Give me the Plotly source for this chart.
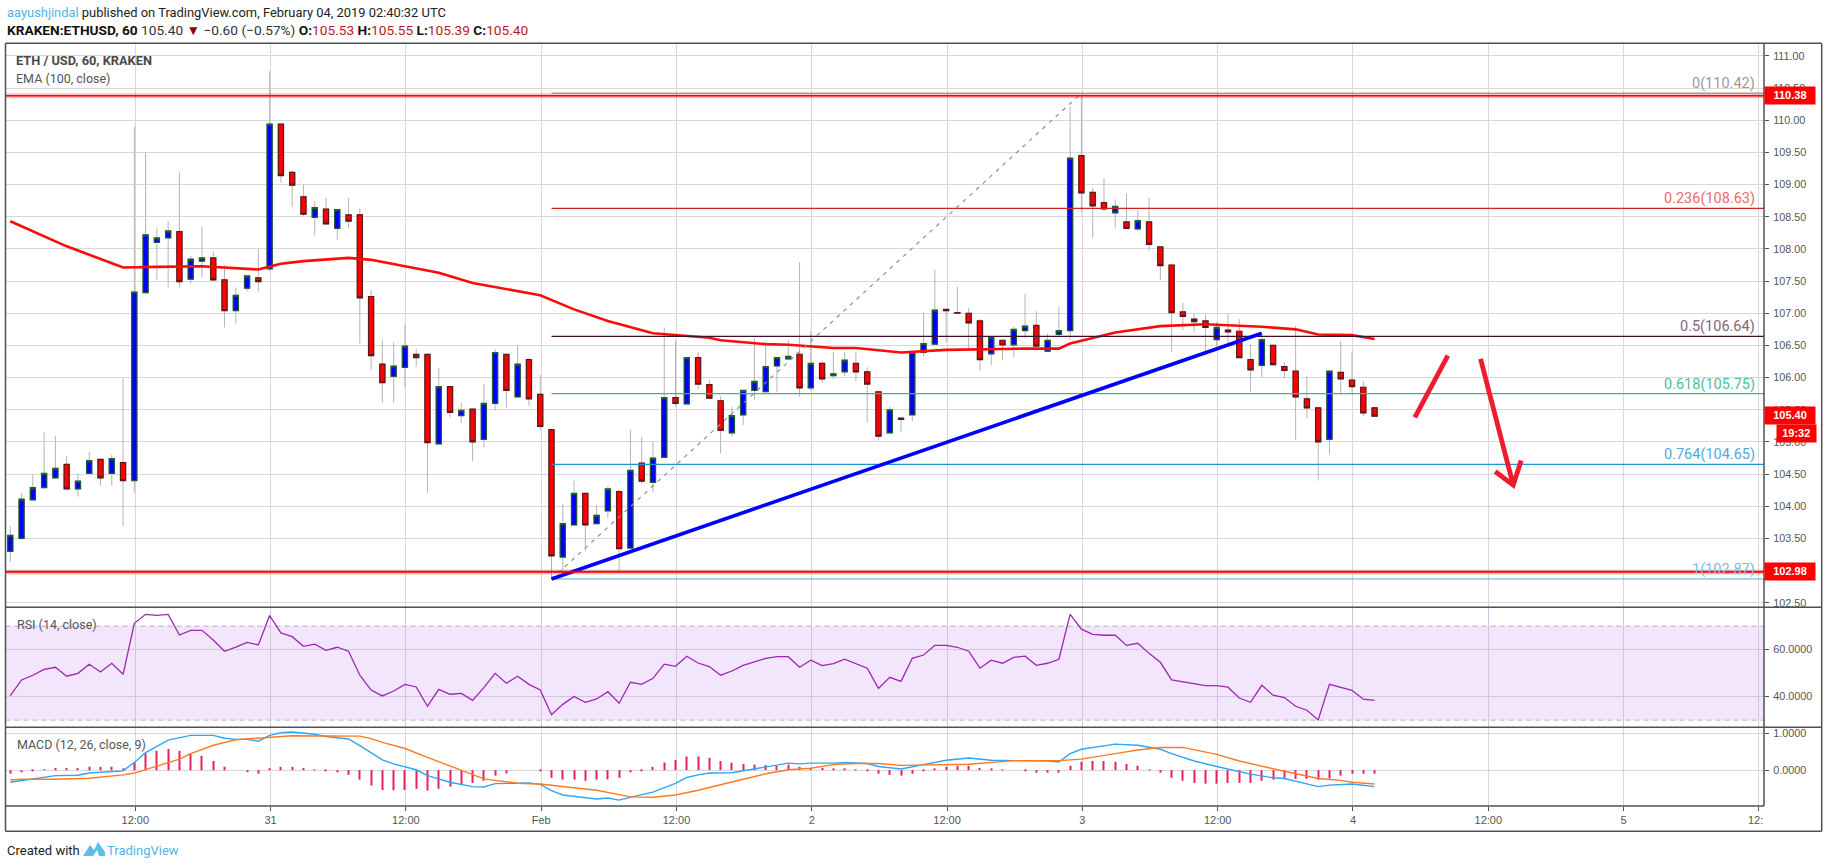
import plotly.graph_objects as go
from plotly.subplots import make_subplots

W, H = 1828, 868

# bars are hourly, x = hours since Jan 30 00:00
hours = list(range(1, 123))

opens = [103.30,103.50,104.10,104.29,104.44,104.65,104.27,104.51,104.73,104.51,
         104.68,104.40,107.32,108.10,108.17,108.27,107.53,107.81,107.86,107.52,
         107.04,107.39,107.55,107.69,109.94,109.19,108.81,108.49,108.62,108.32,
         108.53,108.53,107.26,106.21,106.02,106.16,106.36,106.36,104.97,105.86,
         105.41,105.51,105.04,105.60,106.36,105.70,106.28,105.74,105.19,103.21,
         103.71,104.20,103.73,103.93,104.23,103.35,104.67,104.37,104.76,105.69,
         105.59,106.31,105.89,105.64,105.14,105.42,105.80,105.78,106.18,106.29,
         106.36,105.84,106.22,106.03,106.09,106.22,106.09,105.78,105.14,105.37,
         105.42,106.39,106.52,107.06,107.01,107.00,106.88,106.37,106.58,106.51,
         106.73,106.81,106.41,106.67,106.73,109.45,108.88,108.72,108.56,108.42,
         108.31,108.42,108.03,107.75,107.02,106.91,106.88,106.59,106.74,106.72,
         106.28,106.19,106.50,106.17,106.10,105.67,105.53,105.04,106.08,105.96,
         105.85,105.53]
highs = [103.69,104.21,104.50,105.15,105.09,104.78,104.51,104.84,104.73,104.80,
         105.99,109.90,109.50,108.32,108.43,109.19,107.89,108.35,107.96,107.75,
         107.40,107.58,108.00,110.76,109.94,109.22,109.00,108.74,108.79,108.61,
         108.79,108.63,107.36,106.59,106.55,106.82,106.45,106.36,106.15,105.86,
         105.61,105.51,105.90,106.44,106.36,106.49,106.31,106.04,105.19,104.04,
         104.40,104.20,104.02,104.32,104.27,105.19,105.08,105.00,106.78,106.58,
         106.31,106.40,105.97,105.71,105.55,105.80,106.61,106.54,106.31,106.59,
         107.79,106.72,106.25,106.40,106.40,106.40,106.16,105.78,105.55,105.37,
         106.39,107.01,107.68,107.06,107.41,107.08,106.91,106.63,106.58,106.79,
         107.30,107.03,106.69,107.10,110.21,110.37,108.95,109.10,108.77,108.86,
         108.60,108.80,108.03,107.75,107.16,107.00,106.98,106.86,107.00,106.91,
         106.52,106.67,106.50,106.24,106.80,106.02,105.53,106.10,106.57,106.40,
         105.95,105.55]
lows = [103.13,103.48,104.10,104.29,104.43,104.27,104.15,104.51,104.32,104.32,
        103.69,104.21,107.31,107.51,107.40,107.40,107.46,107.56,107.50,106.78,
        106.84,107.34,107.34,107.65,109.03,108.65,108.51,108.21,108.39,108.14,
        108.32,106.53,106.12,105.61,105.61,105.85,106.17,104.21,104.97,105.38,
        105.29,104.70,104.92,105.49,105.53,105.70,105.56,105.19,102.86,102.94,
        103.71,103.30,103.73,103.82,102.99,103.35,104.35,104.22,104.76,105.55,
        105.59,105.82,105.68,104.82,105.09,105.26,105.65,105.78,105.78,106.29,
        105.70,105.79,105.92,105.98,106.02,105.94,105.30,105.02,105.14,105.15,
        105.32,106.33,106.52,106.55,107.00,106.42,106.10,106.19,106.27,106.32,
        106.61,106.49,106.41,106.65,106.59,108.57,108.17,108.59,108.33,108.32,
        108.28,107.97,107.51,106.39,106.74,106.71,106.40,106.48,106.52,106.31,
        105.78,106.01,106.18,105.99,105.03,105.36,104.40,104.81,105.74,105.75,
        105.40,105.39]
closes = [103.55,104.11,104.29,104.51,104.59,104.27,104.39,104.71,104.44,104.74,
          104.40,107.33,108.22,108.17,108.28,107.49,107.84,107.86,107.52,107.04,
          107.28,107.58,107.49,109.94,109.14,108.99,108.54,108.64,108.39,108.61,
          108.43,107.24,106.34,105.92,106.18,106.49,106.31,104.99,105.86,105.46,
          105.49,105.00,105.60,106.39,105.80,106.21,105.67,105.24,103.23,103.73,
          104.20,103.71,103.86,104.27,103.34,104.56,104.39,104.75,105.69,105.60,
          106.31,105.90,105.68,105.18,105.41,105.80,105.94,106.17,106.31,106.33,
          105.84,106.22,105.98,106.06,106.27,106.09,105.90,105.09,105.50,105.35,
          106.39,106.53,107.05,107.04,107.00,106.85,106.28,106.63,106.51,106.75,
          106.80,106.49,106.58,106.73,109.41,108.87,108.67,108.62,108.66,108.32,
          108.44,108.07,107.74,107.01,106.95,106.87,106.78,106.78,106.71,106.31,
          106.12,106.59,106.20,106.11,105.70,105.53,105.00,106.10,105.98,105.86,
          105.45,105.40]

ema_x = [1,6,8,11,14,18,23,25,27,31,33,37,39,42,43,48,51,54,58,63,64,68,70,74,76,79,80,
         84,87,91,94,95,99,103,107,112,115,117,120,122]
ema_y = [108.43,108.04,107.91,107.71,107.72,107.73,107.68,107.77,107.81,107.86,107.83,
         107.70,107.63,107.47,107.44,107.28,107.06,106.88,106.69,106.62,106.58,106.52,
         106.51,106.46,106.46,106.41,106.39,106.43,106.44,106.45,106.45,106.53,106.70,
         106.80,106.83,106.79,106.75,106.67,106.66,106.60]

rsi = [40.4,47.1,49.1,51.6,52.5,48.7,49.9,53.8,50.5,54.2,49.5,71.2,75.0,74.6,75.0,66.2,
       68.2,68.2,64.1,59.3,61.1,63.1,62.0,74.5,67.1,65.5,61.4,62.3,59.7,61.0,59.3,49.1,
       42.8,40.3,42.4,45.2,44.1,35.9,43.1,41.0,41.4,38.4,43.8,49.9,45.7,48.7,45.2,42.8,
       32.3,36.7,40.1,37.6,39.0,42.1,37.2,46.1,45.2,47.8,53.8,52.9,57.2,54.3,
       52.8,49.1,50.9,53.3,54.8,56.3,57.0,57.0,52.5,55.5,53.2,54.0,55.9,53.9,52.1,43.5,
       48.2,46.5,56.3,57.7,61.8,61.8,61.0,59.3,52.1,55.5,54.2,56.7,57.2,53.3,54.2,55.9,
       75.0,68.7,66.5,66.1,66.1,61.8,62.7,58.4,54.6,47.1,46.4,45.5,44.7,44.7,44.0,39.4,
       37.6,44.8,40.6,39.6,35.9,34.2,30.1,45.2,44.0,42.7,38.9,38.4]

macd_x = [1,4,5,7,8,11,12,13,15,17,18,19,20,21,22,23,24,25,26,27,28,29,31,32,34,35,37,38,
          40,42,43,44,46,47,48,49,50,52,53,54,55,57,58,60,61,62,63,65,67,70,71,72,74,75,
          77,78,80,82,84,86,88,90,93,94,95,96,99,101,103,104,106,108,110,111,113,114,117,
          118,120,122]
macd_y = [-0.33,-0.20,-0.15,-0.14,-0.08,-0.02,0.21,0.48,0.82,0.95,0.96,0.95,0.87,0.84,0.84,
          0.79,0.95,1.02,1.04,1.01,0.98,0.92,0.85,0.67,0.28,0.17,0.01,-0.15,-0.33,-0.45,
          -0.46,-0.37,-0.36,-0.35,-0.39,-0.56,-0.68,-0.75,-0.79,-0.76,-0.82,-0.67,-0.60,
          -0.36,-0.20,-0.13,-0.08,-0.07,0.03,0.19,0.17,0.19,0.19,0.21,0.18,0.10,0.03,0.15,
          0.27,0.33,0.27,0.26,0.25,0.22,0.45,0.57,0.71,0.68,0.57,0.45,0.25,0.10,-0.04,
          -0.11,-0.21,-0.23,-0.45,-0.41,-0.38,-0.45]
signal_x = [1,2,5,8,11,12,14,16,17,19,21,23,25,26,32,33,34,36,38,40,41,43,44,46,48,50,51,
            53,55,56,58,60,62,65,66,68,70,72,74,76,78,80,84,86,90,94,96,98,99,101,103,105,
            108,110,112,114,117,119,120,122]
signal_y = [-0.27,-0.25,-0.25,-0.22,-0.13,-0.08,0.11,0.30,0.45,0.68,0.83,0.88,0.92,0.94,
            0.93,0.86,0.76,0.59,0.35,0.11,-0.02,-0.24,-0.28,-0.36,-0.38,-0.45,-0.49,-0.55,
            -0.67,-0.73,-0.74,-0.68,-0.55,-0.31,-0.25,-0.10,0.01,0.05,0.15,0.18,0.18,0.13,
            0.14,0.16,0.26,0.26,0.30,0.41,0.45,0.55,0.62,0.62,0.43,0.25,0.10,-0.03,-0.23,
            -0.28,-0.33,-0.38]
macd_hist = [-0.10,-0.06,-0.03,0.01,0.06,0.06,0.06,0.09,0.09,0.09,0.05,0.21,0.46,0.53,0.58,
             0.53,0.46,0.39,0.25,0.09,0.0,-0.06,-0.10,0.04,0.09,0.09,0.06,0.01,-0.03,-0.06,
             -0.13,-0.26,-0.42,-0.54,-0.55,-0.54,-0.51,-0.56,-0.51,-0.45,-0.38,-0.35,-0.29,
             -0.15,-0.09,0.0,0.0,-0.03,-0.21,-0.26,-0.26,-0.29,-0.26,-0.25,-0.21,-0.06,-0.02,
             0.09,0.21,0.28,0.37,0.37,0.34,0.25,0.20,0.17,0.15,0.14,0.12,0.15,0.09,0.06,0.06,
             0.04,0.04,0.01,-0.03,-0.10,-0.13,-0.15,-0.10,-0.03,0.04,0.09,0.12,0.12,0.06,0.04,
             0.01,0.0,-0.03,-0.07,-0.07,-0.07,0.12,0.23,0.25,0.25,0.23,0.17,0.12,0.01,-0.07,
             -0.21,-0.29,-0.35,-0.37,-0.37,-0.35,-0.35,-0.35,-0.29,-0.26,-0.23,-0.24,-0.24,
             -0.26,-0.23,-0.15,-0.10,-0.10,-0.10]

fib_levels = [110.42, 108.63, 106.64, 105.75, 104.65, 102.87]
fib_ratios = ["0", "0.236", "0.5", "0.618", "0.764", "1"]
fib_colors = ["#9e9e9e", "#c62828", "#3c0f2c", "#35b88a", "#1f93d1", "#4fb0e0"]
fib_text_colors = ["#9a9a9a", "#ef6a6a", "#86657c", "#4cc09a", "#52a8dc", "#7cbce6"]
fib_start = 49
fib_end = 96

trend_x = [49, 112]
trend_y = [102.87, 106.69]
arrow_up_x = [125.57, 128.5]
arrow_up_y = [105.38, 106.34]
arrow_down_x = [131.4, 134.3, 132.7, 134.3, 135.0]
arrow_down_y = [106.29, 104.33, 104.54, 104.33, 104.71]
res_lines = [110.38, 102.98]

x_range = [0.574, 156.54]
tick_hours = [12, 24, 36, 48, 60, 72, 84, 96, 108, 120, 132, 144, 156]
tick_text = ["12:00", "31", "12:00", "Feb", "12:00", "2", "12:00", "3", "12:00", "4", "12:00", "5", ""]
price_ticks = [102.5, 103, 103.5, 104, 104.5, 105, 105.5, 106, 106.5, 107, 107.5, 108, 108.5,
               109, 109.5, 110, 110.5, 111]


def px(x):
    return x / W


def py(y):
    return 1 - y / H


GRID = "#d8d8d8"
RSI_GRID = "#d2c6dc"
FRAME = "#505050"
TICK = "#555555"
UI_FONT = "Liberation Sans"
TEXT_FONT = "Roboto"

fig = make_subplots(rows=3, cols=1, shared_xaxes=True, vertical_spacing=0)

# price pane
fig.add_trace(go.Scatter(x=ema_x, y=ema_y, mode="lines", line=dict(color="#ff0a0a", width=2.6)), row=1, col=1)
# wicks first in grey, then bodies without wicks on top
fig.add_trace(go.Candlestick(x=hours, open=opens, high=highs, low=lows, close=closes,
                             increasing=dict(line=dict(color="#b4b4b4", width=1), fillcolor="#b4b4b4"),
                             decreasing=dict(line=dict(color="#b4b4b4", width=1), fillcolor="#b4b4b4"),
                             whiskerwidth=0), row=1, col=1)
body_hi = [max(o, c) for o, c in zip(opens, closes)]
body_lo = [min(o, c) for o, c in zip(opens, closes)]
fig.add_trace(go.Candlestick(x=hours, open=opens, high=body_hi, low=body_lo, close=closes,
                             increasing=dict(line=dict(color="#1f5c2e", width=1.2), fillcolor="#0000ff"),
                             decreasing=dict(line=dict(color="#5e1818", width=1.2), fillcolor="#ff0000"),
                             whiskerwidth=0), row=1, col=1)

for level, color in zip(fib_levels, fib_colors):
    fig.add_trace(go.Scatter(x=[fib_start, x_range[1]], y=[level, level], mode="lines",
                             line=dict(color=color, width=1.2)), row=1, col=1)
fig.add_trace(go.Scatter(x=[fib_start, fib_end], y=[fib_levels[5], fib_levels[0]], mode="lines",
                         line=dict(color="#8f8f8f", width=1.2, dash="4px,5px")), row=1, col=1)
fig.add_trace(go.Scatter(x=trend_x, y=trend_y, mode="lines", line=dict(color="#0000ff", width=3.6)), row=1, col=1)
arrow_line = dict(color="#ee1c2e", width=4.8)
fig.add_trace(go.Scatter(x=arrow_up_x, y=arrow_up_y, mode="lines", line=arrow_line), row=1, col=1)
fig.add_trace(go.Scatter(x=arrow_down_x, y=arrow_down_y, mode="lines", line=arrow_line), row=1, col=1)

for level in res_lines:
    fig.add_trace(go.Scatter(x=x_range, y=[level, level], mode="lines",
                             line=dict(color="rgba(255,0,0,0.25)", width=5)), row=1, col=1)
    fig.add_trace(go.Scatter(x=x_range, y=[level, level], mode="lines",
                             line=dict(color="#ff0000", width=1.6)), row=1, col=1)

# RSI pane, the band has to come after the trace or plotly drops it on an empty subplot
fig.add_trace(go.Scatter(x=hours, y=rsi, mode="lines", line=dict(color="#9c27b0", width=1.3)), row=2, col=1)
fig.add_hrect(y0=30, y1=70, row=2, col=1, fillcolor="rgb(243,229,252)", line_width=0, layer="below")
for lvl in [30, 70]:
    fig.add_hline(y=lvl, row=2, col=1, line=dict(color="#b9aec1", width=1, dash="5px,4px"), layer="below")

# MACD pane
fig.add_trace(go.Bar(x=hours, y=macd_hist, width=0.09, marker=dict(color="#e91e63", line=dict(width=0))), row=3, col=1)
fig.add_trace(go.Scatter(x=macd_x, y=macd_y, mode="lines", line=dict(color="#2ea6f5", width=1.4)), row=3, col=1)
fig.add_trace(go.Scatter(x=signal_x, y=signal_y, mode="lines", line=dict(color="#ff7a1f", width=1.4)), row=3, col=1)

fig.update_layout(
    width=W, height=H,
    margin=dict(l=0, r=0, t=0, b=0),
    autosize=False,
    paper_bgcolor="white", plot_bgcolor="white",
    showlegend=False,
    boxgap=0.34,
    boxmode="overlay",
    font=dict(family=UI_FONT, size=11, color=TICK),
    hovermode=False,
)

x_dom = [px(5.5), px(1764)]
fig.update_xaxes(range=x_range, domain=x_dom, showgrid=True, gridcolor=GRID, gridwidth=1,
                 tickmode="array", tickvals=[h + 0.086 for h in tick_hours], ticktext=[""] * len(tick_hours),
                 zeroline=False, showline=False, rangeslider_visible=False, ticks="", tickfont=dict(size=11))
fig.update_xaxes(row=2, col=1, gridcolor=RSI_GRID)
fig.update_xaxes(row=3, col=1, ticktext=tick_text, ticks="outside", ticklen=4, tickcolor=FRAME)

fig.update_yaxes(side="right", showgrid=True, gridcolor=GRID, gridwidth=1, zeroline=False, showline=False,
                 ticks="outside", ticklen=4, tickcolor=FRAME, tickfont=dict(size=10.8, color=TICK),
                 ticklabelstandoff=2)
fig.update_yaxes(row=1, col=1, domain=[py(607.3), py(43)], range=[102.43, 111.2], tickmode="array",
                 tickvals=price_ticks, ticktext=["%.2f" % t for t in price_ticks])
fig.update_yaxes(row=2, col=1, domain=[py(727.3), py(607.3)], range=[26.95, 78.0], tickmode="array",
                 tickvals=[40, 60], ticktext=["40.0000", "60.0000"], gridcolor=RSI_GRID)
fig.update_yaxes(row=3, col=1, domain=[py(806), py(727.3)], range=[-0.98, 1.17], tickmode="array",
                 tickvals=[0, 1], ticktext=["0.0000", "1.0000"])

# frame around panes
frame = dict(color=FRAME, width=1.5)
for x0, y0, x1, y1 in [(5.5, 43.3, 1821.7, 43.3), (5.5, 831.3, 1821.7, 831.3), (5.5, 43.3, 5.5, 831.3),
                       (1821.7, 43.3, 1821.7, 831.3), (5.5, 607.3, 1821.7, 607.3), (5.5, 727.3, 1821.7, 727.3),
                       (5.5, 806, 1764, 806), (1764, 43.3, 1764, 806)]:
    fig.add_shape(type="line", xref="paper", yref="paper", x0=px(x0), x1=px(x1), y0=py(y0), y1=py(y1), line=frame)

# tradingview logo
logo = [(83, 856), (90, 845), (94, 850), (98, 842), (105, 852), (105, 856), (99, 856), (97, 850), (93, 856)]
fig.add_shape(type="path", xref="paper", yref="paper", line=dict(width=0), fillcolor="#5cbdea",
              path="M " + " L ".join(f"{px(a):.5f},{py(b):.5f}" for a, b in logo) + " Z")


def label(x, y, text, size=13, color="#444444", family=TEXT_FONT, anchor="left"):
    fig.add_annotation(xref="paper", yref="paper", x=px(x), y=py(y), text=text, showarrow=False,
                       xanchor=anchor, yanchor="middle", align="left", borderpad=0,
                       font=dict(size=size, color=color, family=family))


label(6, 12.5, '<span style="color:#4db6e8">aayushjindal</span> published on TradingView.com, '
               'February 04, 2019 02:40:32 UTC', size=12.9, color="#222222")
red = "#b71c1c"
label(6, 29.5, f'<b>KRAKEN:ETHUSD, 60</b> <span style="color:#333333">105.40</span> '
               f'<span style="color:#8b0000">▼</span> <span style="color:#333333">−0.60 (−0.57%)</span> '
               f'<b>O:</b><span style="color:{red}">105.53</span> <b>H:</b><span style="color:{red}">105.55</span> '
               f'<b>L:</b><span style="color:{red}">105.39</span> <b>C:</b><span style="color:{red}">105.40</span>',
      size=13.7, color="#111111")
label(15, 60.5, "<b>ETH / USD, 60, KRAKEN</b>", size=12.8, color="#4a4a4a")
label(15, 78, "EMA (100, close)", size=12.5, color="#555555")
label(15.5, 624.7, "RSI (14, close)", size=12.5, color="#555555")
label(15.5, 744.7, "MACD (12, 26, close, 9)", size=12.5, color="#555555")
label(6, 850, "Created with", size=13, color="#222222")
label(106, 850, "TradingView", size=13, color="#4db6e8")
label(1764, 820, "12:", size=11, color=TICK, family=UI_FONT, anchor="right")

# fib labels, right aligned just above their lines
for level, ratio, color in zip(fib_levels, fib_ratios, fib_text_colors):
    fig.add_annotation(xref="x", yref="y", x=155.8, y=level, text=f"{ratio}({level:.2f})", showarrow=False,
                       xanchor="right", yanchor="bottom", borderpad=0,
                       font=dict(size=14.5, color=color, family=TEXT_FONT))


def price_box(y, text, x0=1764, x1=1814, h=16.5):
    fig.add_annotation(xref="paper", yref="paper", x=px(x0), y=py(y), text=f"<b>{text}</b>", showarrow=False,
                       xanchor="left", yanchor="middle", width=x1 - x0, height=h, bgcolor="#ff0000", align="center",
                       borderpad=0, font=dict(size=11, color="white", family=UI_FONT))


price_box(95.5, "110.38")
price_box(415.5, "105.40")
price_box(433.5, "19:32", x0=1775.5)
price_box(571.3, "102.98")

fig.write_html("out.html", config=dict(displayModeBar=False),
               post_script="document.body.style.margin='0';document.body.style.overflow='hidden';")
